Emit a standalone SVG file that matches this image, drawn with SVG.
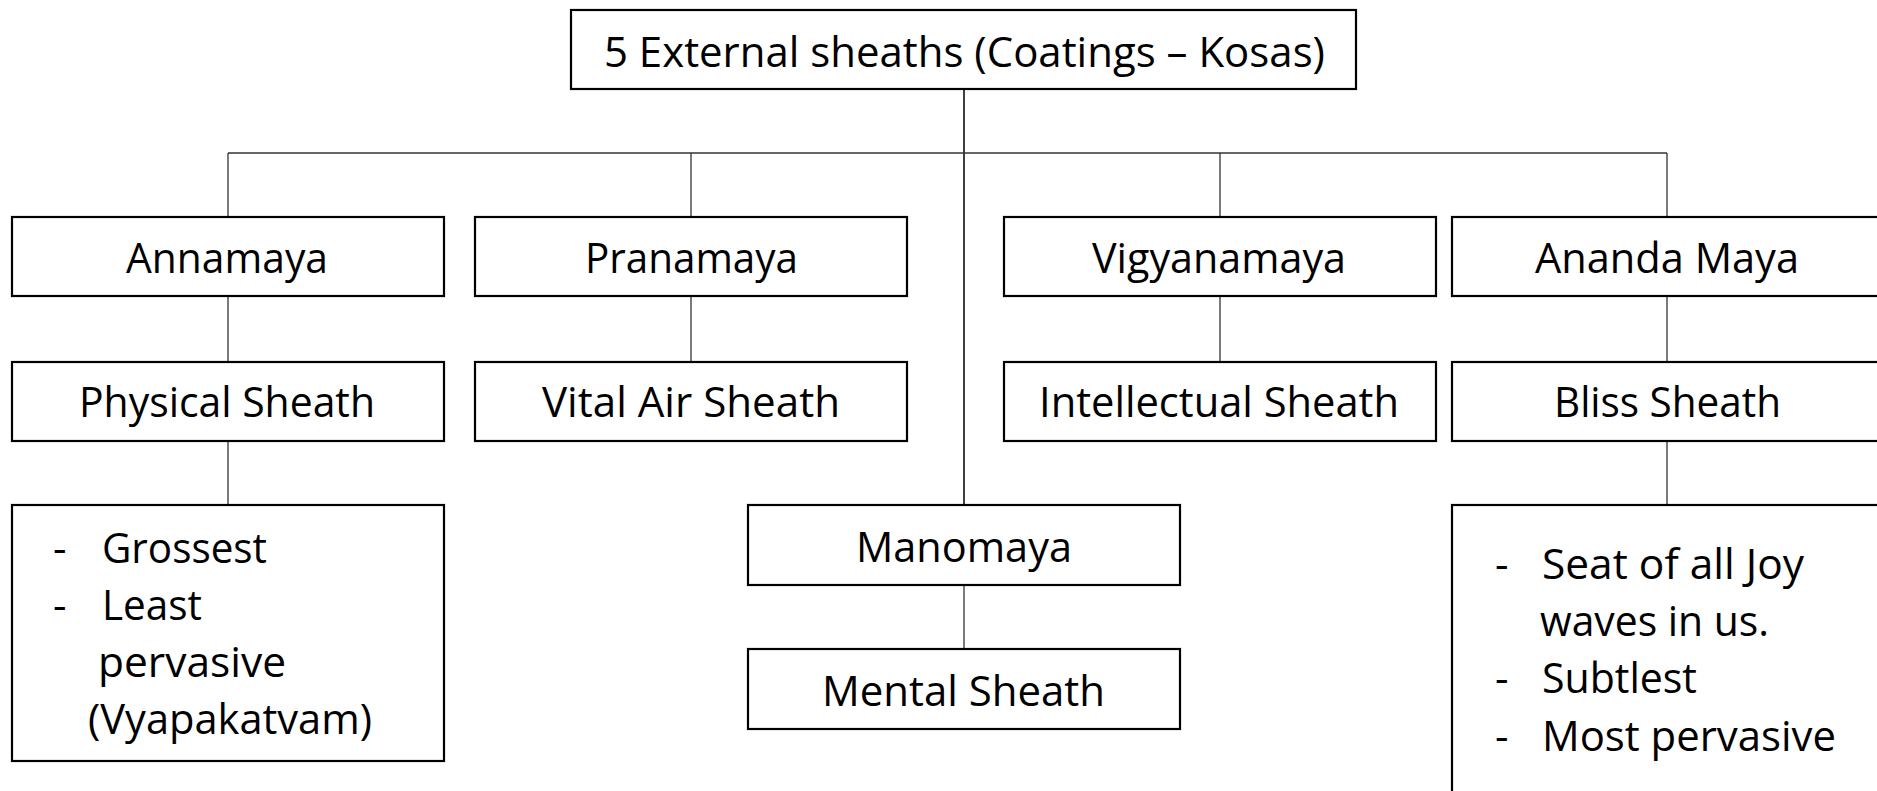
<svg xmlns="http://www.w3.org/2000/svg" width="1877" height="791" viewBox="0 0 1877 791">
<style>
.box{fill:#fff;stroke:#000;stroke-width:2.2}
.t{font-family:"Open Sans","Liberation Sans",sans-serif;font-size:42px;fill:#000}
.c{fill:none;stroke:#333;stroke-width:1.3}
.trunk{fill:none;stroke:#000;stroke-width:1.5}
</style>
<rect width="1877" height="791" fill="#fff"/>
<g id="connectors">
<path class="trunk" d="M964,89 V505"/>
<path class="c" d="M228,153 H1667"/>
<path class="c" d="M228,153 V217 M691,153 V217 M1220,153 V217 M1667,153 V217"/>
<path class="c" d="M228,296 V362 M691,296 V362 M1220,296 V362 M1667,296 V362"/>
<path class="c" d="M228,441 V505 M1667,441 V505"/>
<path class="c" d="M964,585 V649"/>
</g>
<g id="root">
<rect class="box" x="571" y="10" width="785" height="79"/>
<text class="t" x="604" y="67" textLength="721" lengthAdjust="spacingAndGlyphs">5 External sheaths (Coatings – Kosas)</text>
</g>
<g id="annamaya">
<rect class="box" x="12" y="217" width="432" height="79"/>
<text class="t" x="126" y="273" textLength="202" lengthAdjust="spacingAndGlyphs">Annamaya</text>
</g>
<g id="pranamaya">
<rect class="box" x="475" y="217" width="432" height="79"/>
<text class="t" x="585" y="273" textLength="213" lengthAdjust="spacingAndGlyphs">Pranamaya</text>
</g>
<g id="vigyanamaya">
<rect class="box" x="1004" y="217" width="432" height="79"/>
<text class="t" x="1092" y="273" textLength="254" lengthAdjust="spacingAndGlyphs">Vigyanamaya</text>
</g>
<g id="anandamaya">
<rect class="box" x="1452" y="217" width="440" height="79"/>
<text class="t" x="1535" y="273" textLength="264" lengthAdjust="spacingAndGlyphs">Ananda Maya</text>
</g>
<g id="physical">
<rect class="box" x="12" y="362" width="432" height="79"/>
<text class="t" x="79" y="417" textLength="296" lengthAdjust="spacingAndGlyphs">Physical Sheath</text>
</g>
<g id="vital">
<rect class="box" x="475" y="362" width="432" height="79"/>
<text class="t" x="542" y="417" textLength="298" lengthAdjust="spacingAndGlyphs">Vital Air Sheath</text>
</g>
<g id="intellectual">
<rect class="box" x="1004" y="362" width="432" height="79"/>
<text class="t" x="1039" y="417" textLength="360" lengthAdjust="spacingAndGlyphs">Intellectual Sheath</text>
</g>
<g id="bliss">
<rect class="box" x="1452" y="362" width="440" height="79"/>
<text class="t" x="1554" y="417" textLength="227" lengthAdjust="spacingAndGlyphs">Bliss Sheath</text>
</g>
<g id="physical-notes">
<rect class="box" x="12" y="505" width="432" height="256"/>
<text class="t" x="53" y="563">-</text>
<text class="t" x="102" y="563" textLength="165" lengthAdjust="spacingAndGlyphs">Grossest</text>
<text class="t" x="53" y="620">-</text>
<text class="t" x="102" y="620" textLength="100" lengthAdjust="spacingAndGlyphs">Least</text>
<text class="t" x="98" y="677" textLength="188" lengthAdjust="spacingAndGlyphs">pervasive</text>
<text class="t" x="88" y="734" textLength="284" lengthAdjust="spacingAndGlyphs">(Vyapakatvam)</text>
</g>
<g id="manomaya">
<rect class="box" x="748" y="505" width="432" height="80"/>
<text class="t" x="856" y="562" textLength="216" lengthAdjust="spacingAndGlyphs">Manomaya</text>
</g>
<g id="mental">
<rect class="box" x="748" y="649" width="432" height="80"/>
<text class="t" x="822" y="706" textLength="283" lengthAdjust="spacingAndGlyphs">Mental Sheath</text>
</g>
<g id="bliss-notes">
<rect class="box" x="1452" y="505" width="440" height="300"/>
<text class="t" x="1495" y="579">-</text>
<text class="t" x="1542" y="579" textLength="262" lengthAdjust="spacingAndGlyphs">Seat of all Joy</text>
<text class="t" x="1540" y="636" textLength="229" lengthAdjust="spacingAndGlyphs">waves in us.</text>
<text class="t" x="1495" y="693">-</text>
<text class="t" x="1542" y="693" textLength="155" lengthAdjust="spacingAndGlyphs">Subtlest</text>
<text class="t" x="1495" y="751">-</text>
<text class="t" x="1542" y="751" textLength="294" lengthAdjust="spacingAndGlyphs">Most pervasive</text>
</g>
</svg>
